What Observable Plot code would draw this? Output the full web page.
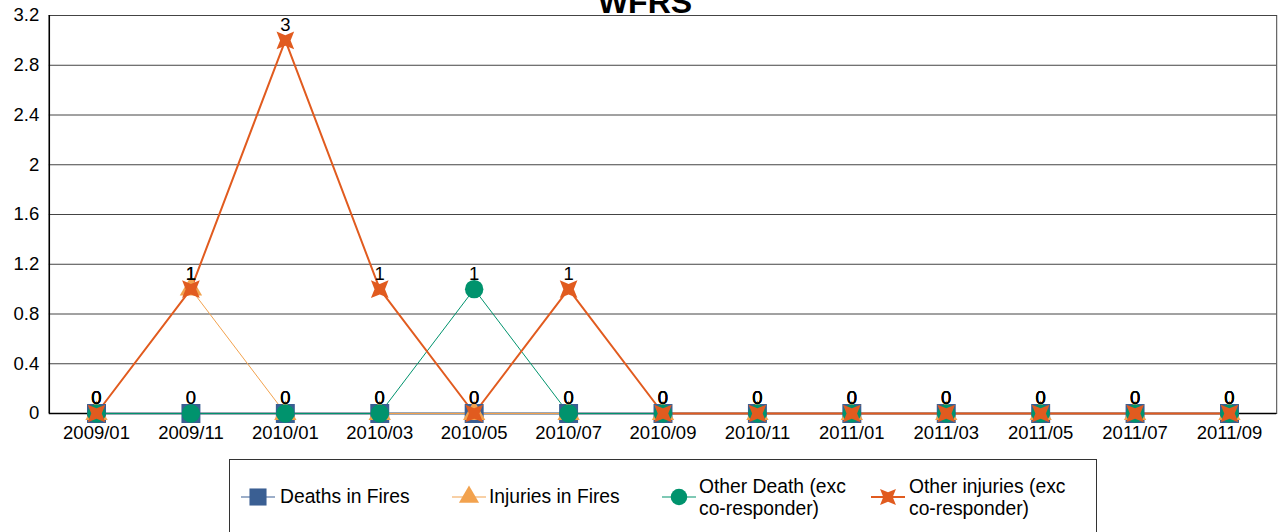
<!DOCTYPE html>
<html>
<head>
<meta charset="utf-8">
<script src="https://cdn.jsdelivr.net/npm/d3@7"></script>
<script src="https://cdn.jsdelivr.net/npm/@observablehq/plot@0.6"></script>
<style>
  html, body { margin: 0; padding: 0; background: #fff; }
  body { width: 1279px; height: 532px; position: relative; overflow: hidden; font-family: "Liberation Sans", Arial, sans-serif; }
  #chart { position: absolute; left: 0; top: 0; }
  #legend { position: absolute; left: 229px; top: 459px; width: 868px; height: 90px; border: 1px solid #333; box-sizing: border-box; background: #fff; }
  .item { position: absolute; top: 0; display: block; }
  .item svg { position: absolute; }
  .item .lbl { position: absolute; font-size: 19.3px; line-height: 22px; color: #000; white-space: nowrap; }
</style>
</head>
<body>
<div id="chart"></div>
<div id="legend"></div>
<script>
// ---- data ----
const months = ["2009/01","2009/11","2010/01","2010/03","2010/05","2010/07","2010/09","2010/11","2011/01","2011/03","2011/05","2011/07","2011/09"];
const deathsInFires   = [0,0,0,0,0,0,0,0,0,0,0,0,0];
const injuriesInFires = [0,1,0,0,0,0,0,0,0,0,0,0,0];
const otherDeath      = [0,0,0,0,1,0,0,0,0,0,0,0,0];
const otherInjuries   = [0,1,3,1,0,1,0,0,0,0,0,0,0];
const seriesNames = ["Deaths in Fires","Injuries in Fires","Other Death (exc co-responder)","Other injuries (exc co-responder)"];
const yTicks = [0,0.4,0.8,1.2,1.6,2,2.4,2.8,3.2];
const title = "WFRS";

// ---- styles ----
const colors = ["#3A5F93","#F2A24E","#00936D","#E15B1F"];
const lineWidths = [1.5, 1, 1, 2];
const fs = 18.5;

// custom 4-point star (points on diagonals)
const star4 = {
  draw(context, size) {
    const R = Math.sqrt(size / Math.PI);
    const r = R * 0.42;
    for (let i = 0; i < 8; i++) {
      const a = Math.PI / 4 + i * Math.PI / 4;
      const rad = i % 2 === 0 ? R : r;
      const x = rad * Math.cos(a), y = rad * Math.sin(a);
      if (i === 0) context.moveTo(x, y); else context.lineTo(x, y);
    }
    context.closePath();
  }
};

const allSeries = [deathsInFires, injuriesInFires, otherDeath, otherInjuries];
const tables = allSeries.map((vals, s) => months.map((m, i) => ({month: m, value: vals[i], series: seriesNames[s]})));
const symbols = ["square", "triangle", "circle", star4];
const radii = [10.7, 8.3, 9.2, 12.5];

const marks = [
  Plot.ruleY(yTicks.slice(1), {stroke: "#444", strokeWidth: 1}),
  Plot.frame({stroke: "#444", strokeWidth: 1}),
  Plot.ruleY([0], {stroke: "#000", strokeWidth: 1.5}),
  Plot.ruleX([months[0]], {stroke: "#000", strokeWidth: 1.5, dx: -47.2}),
  Plot.axisY({ticks: yTicks, tickSize: 0, tickPadding: 10, tickFormat: d => String(d), fontSize: fs, label: null}),
  Plot.axisX({tickSize: 0, tickPadding: 12, fontSize: fs, label: null}),
  ...tables.map((t, s) => Plot.line(t, {x: "month", y: "value", stroke: colors[s], strokeWidth: lineWidths[s]})),
  ...tables.map((t, s) => Plot.dot(t, {x: "month", y: "value", symbol: () => symbols[s], r: radii[s], fill: colors[s], stroke: "none"})),
  ...tables.map((t, s) => Plot.text(t, {x: "month", y: "value", text: d => String(d.value), dy: -15, fontSize: fs, fill: "#000"})),
  Plot.text([title], {frameAnchor: "top", text: d => d, dx: -18, dy: -3, lineAnchor: "bottom", fontSize: 32, fontWeight: "bold", fill: "#000"})
];

const chart = Plot.plot({
  width: 1279,
  height: 450,
  marginLeft: 48.8,
  marginRight: 2.8,
  marginTop: 15,
  marginBottom: 37,
  style: {fontFamily: "'Liberation Sans', Arial, sans-serif", fontSize: fs + "px", color: "#000", background: "transparent", overflow: "visible"},
  x: {type: "point", domain: months, padding: 0.5, round: false, axis: null},
  y: {domain: [0, 3.2], axis: null},
  symbol: {type: "identity"},
  marks
});
document.getElementById("chart").appendChild(chart);

// ---- legend ----
const legend = document.getElementById("legend");
const legendItems = [
  {x: 11, textX: 50, two: false},
  {x: 222, textX: 259, two: false},
  {x: 432, textX: 469, two: true},
  {x: 641, textX: 679, two: true}
];
function symbolPath(s) {
  const sym = symbols[s];
  const size = Math.PI * radii[s] * radii[s];
  const type = typeof sym === "string" ? {square: d3.symbolSquare, triangle: d3.symbolTriangle, circle: d3.symbolCircle}[sym] : sym;
  return d3.symbol(type, size)();
}
legendItems.forEach((it, s) => {
  const div = document.createElement("div");
  div.className = "item";
  div.style.left = it.x + "px";
  const svgNS = "http://www.w3.org/2000/svg";
  const svg = document.createElementNS(svgNS, "svg");
  svg.setAttribute("width", 34); svg.setAttribute("height", 30);
  svg.style.left = "0px"; svg.style.top = "22px";
  const ln = document.createElementNS(svgNS, "line");
  ln.setAttribute("x1", 0); ln.setAttribute("x2", 34); ln.setAttribute("y1", 15); ln.setAttribute("y2", 15);
  ln.setAttribute("stroke", colors[s]); ln.setAttribute("stroke-width", s === 3 ? 2 : 1.2);
  svg.appendChild(ln);
  const p = document.createElementNS(svgNS, "path");
  p.setAttribute("d", symbolPath(s));
  p.setAttribute("transform", "translate(17,15) scale(0.9)");
  p.setAttribute("fill", colors[s]);
  svg.appendChild(p);
  div.appendChild(svg);
  const lbl = document.createElement("div");
  lbl.className = "lbl";
  lbl.style.left = (it.textX - it.x) + "px";
  const name = seriesNames[s];
  if (it.two) {
    const idx = name.indexOf(" co-");
    lbl.innerHTML = name.slice(0, idx) + "<br>" + name.slice(idx + 1);
    lbl.style.top = "16px";
  } else {
    lbl.textContent = name;
    lbl.style.top = "26px";
  }
  div.appendChild(lbl);
  legend.appendChild(div);
});
</script>
</body>
</html>
